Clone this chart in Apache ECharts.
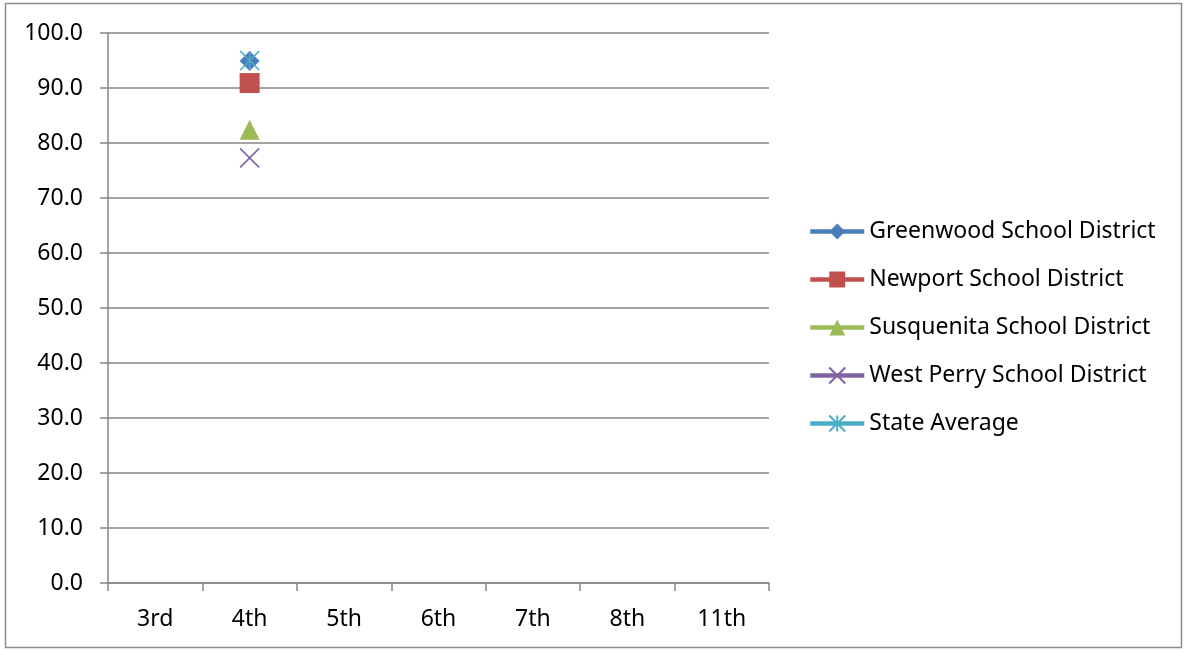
<!DOCTYPE html>
<html>
<head>
<meta charset="utf-8">
<script src="https://cdn.jsdelivr.net/npm/echarts@6/dist/echarts.min.js"></script>
<style>html,body{margin:0;padding:0;background:#fff}#c{width:1186px;height:650px}</style>
</head>
<body>
<div id="c"></div>
<script>
const categories = ['3rd','4th','5th','6th','7th','8th','11th'];
const seriesNames = ['Greenwood School District','Newport School District','Susquenita School District','West Perry School District','State Average'];
const greenwood = [null, 94.9, null, null, null, null, null];
const newport = [null, 90.9, null, null, null, null, null];
const susquenita = [null, 82.4, null, null, null, null, null];
const westPerry = [null, 77.3, null, null, null, null, null];
const stateAverage = [null, 95.0, null, null, null, null, null];
const yTicks = [0,10,20,30,40,50,60,70,80,90,100];

const colors = ['#4A7EBB','#C0504D','#9BBB59','#8064A2','#4BACC6'];
const FONT = 'Noto Sans';
const xPath = 'path://M0,0L10,10M10,0L0,10';
const starPath = 'path://M0,0L10,10M10,0L0,10M5,0L5,10';

function mk(i, data, symbol, size, stroke) {
  const s = {
    name: seriesNames[i], type: 'line', data: data,
    symbol: symbol, symbolSize: size,
    lineStyle: { width: 4.5, color: colors[i] },
    itemStyle: { color: colors[i] },
    emphasis: { disabled: true },
    connectNulls: false
  };
  if (stroke) {
    s.itemStyle = { color: 'rgba(0,0,0,0)', borderColor: colors[i], borderWidth: 1.6 };
  }
  return s;
}

const chart = echarts.init(document.getElementById('c'));
chart.setOption({
  animation: false,
  backgroundColor: '#fff',
  color: colors,
  grid: { left: 108, right: 417, top: 33, bottom: 67 },
  graphic: [{ type: 'rect', shape: { x: 5.5, y: 3.5, width: 1176, height: 644 }, style: { fill: 'none', stroke: '#8c8c8c', lineWidth: 1.5 }, silent: true }],
  legend: {
    orient: 'vertical', left: 803, top: 215,
    itemWidth: 54, itemHeight: 20, itemGap: 25,
    lineStyle: { width: 4.5 },
    textStyle: { fontFamily: FONT, fontSize: 23, lineHeight: 20, color: '#000', padding: [0,0,0,0] },
    data: seriesNames
  },
  xAxis: {
    type: 'category', data: categories, boundaryGap: true,
    axisLine: { lineStyle: { color: '#868686', width: 1.5 } },
    axisTick: { show: true, length: 8, alignWithLabel: false, lineStyle: { color: '#868686', width: 1.5 } },
    axisLabel: { fontFamily: FONT, fontSize: 23, color: '#000', margin: 25 },
    splitLine: { show: false }
  },
  yAxis: {
    type: 'value', min: yTicks[0], max: yTicks[yTicks.length-1], interval: 10,
    axisLine: { show: true, lineStyle: { color: '#868686', width: 1.5 } },
    axisTick: { show: true, length: 8, lineStyle: { color: '#868686', width: 1.5 } },
    axisLabel: { fontFamily: FONT, fontSize: 23, color: '#000', margin: 25, formatter: v => v.toFixed(1) },
    splitLine: { show: true, lineStyle: { color: '#868686', width: 1.5 } }
  },
  series: [
    mk(0, greenwood, 'diamond', 20, false),
    mk(1, newport, 'rect', 20, false),
    mk(2, susquenita, 'triangle', 20, false),
    mk(3, westPerry, xPath, 19, true),
    mk(4, stateAverage, starPath, 19, true)
  ]
});
</script>
</body>
</html>
